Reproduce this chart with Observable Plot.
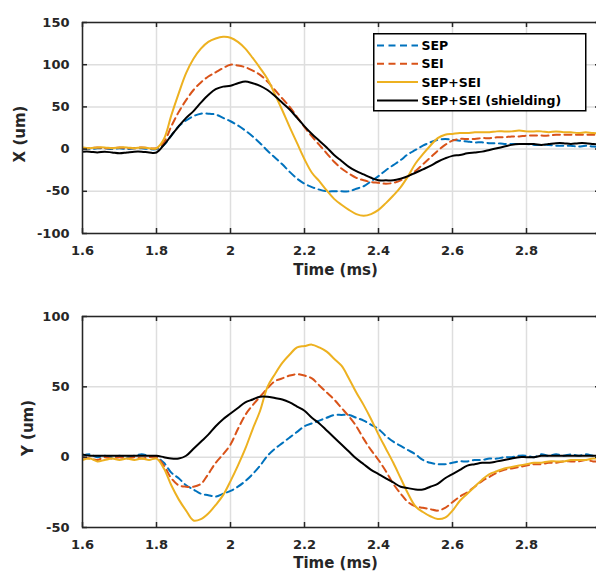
<!DOCTYPE html>
<html><head><meta charset="utf-8">
<script src="https://cdn.jsdelivr.net/npm/d3@7"></script>
<script src="https://cdn.jsdelivr.net/npm/@observablehq/plot@0.6"></script>
<style>
body{margin:0;background:#fff;overflow:hidden}
#wrap{position:relative;width:596px;height:574px;overflow:hidden;background:#fff}
#wrap > svg{display:block;max-width:none !important;width:604px !important;flex:none}
#wrap > svg#legend{width:214px !important}
#legend{position:absolute;left:373px;top:33px}
</style></head><body><div id="wrap"></div>
<script>
const time = [1.60,1.62,1.64,1.66,1.68,1.70,1.72,1.74,1.76,1.78,
  1.80,1.82,1.84,1.86,1.88,1.90,1.92,1.94,1.96,1.98,
  2.00,2.02,2.04,2.06,2.08,2.10,2.12,2.14,2.16,2.18,
  2.20,2.22,2.24,2.26,2.28,2.30,2.32,2.34,2.36,2.38,
  2.40,2.42,2.44,2.46,2.48,2.50,2.52,2.54,2.56,2.58,
  2.60,2.62,2.64,2.66,2.68,2.70,2.72,2.74,2.76,2.78,
  2.80,2.82,2.84,2.86,2.88,2.90,2.92,2.94,2.96,2.98,3.00];

const seriesNames = ["SEP", "SEI", "SEP+SEI", "SEP+SEI (shielding)"];
const seriesColors = ["#0072BD", "#D95319", "#EDB120", "#000000"];
const seriesDash = ["7,4.5", "7,4.5", null, null];

// Top panel: X (um)
const xSEP = [1,0,1,1,0,1,0,1,1,0,
  0,5,16,27,34,39,42,42,41,37,
  33,28,22,15,7,-2,-10,-18,-27,-35,
  -41,-45,-48,-50,-50,-50,-50,-47,-44,-38,
  -32,-25,-19,-13,-6,-1,4,8,11,12,
  11,10,9,8,8,7,7,6,6,6,
  6,5,5,5,4,4,4,3,4,3,3];
const xSEI = [1,1,2,1,1,2,1,1,2,1,
  1,8,27,44,58,70,79,86,91,96,
  100,99,97,93,88,80,70,60,50,38,
  26,15,5,-5,-15,-23,-29,-34,-37,-39,
  -40,-41,-40,-37,-32,-26,-18,-10,-2,5,
  10,12,12,12,13,13,14,14,15,15,
  16,16,16,16,17,17,17,17,17,17,17];
const xSEPSEI = [2,1,2,2,1,2,2,1,2,1,
  1,12,40,66,90,107,119,127,131,133,
  132,127,119,108,96,83,65,46,26,7,
  -12,-28,-38,-49,-59,-66,-72,-77,-79,-77,
  -72,-64,-55,-45,-32,-17,-6,4,13,17,
  18,19,19,20,20,20,21,21,21,22,
  21,21,21,20,21,20,20,19,20,19,19];
const xShield = [-3,-3,-4,-3,-4,-5,-4,-3,-3,-4,
  -4,5,16,27,37,45,55,64,71,74,
  75,78,80,78,75,70,63,55,47,37,
  27,18,10,2,-7,-14,-21,-26,-30,-34,
  -37,-37,-37,-35,-32,-28,-24,-20,-15,-11,
  -8,-7,-5,-4,-3,-1,1,3,5,6,
  6,6,5,6,7,7,6,7,7,6,5];

// Bottom panel: Y (um)
const ySEP = [1,2,0,1,0,1,0,1,2,1,
  0,-4,-11,-15,-20,-23,-26,-27,-28,-26,
  -24,-21,-17,-12,-6,1,6,10,14,18,
  22,24,26,28,30,30,30,28,26,23,
  20,15,11,8,5,2,-2,-4,-5,-5,
  -4,-3,-3,-2,-2,-1,-1,0,0,1,
  1,0,2,1,2,1,2,1,2,1,0];
const ySEI = [0,-1,-2,0,-1,0,-1,0,-1,0,
  0,-6,-15,-20,-21,-21,-19,-12,-4,2,
  9,20,30,37,43,49,54,56,58,59,
  58,56,51,46,41,35,29,22,13,5,
  -2,-10,-19,-26,-32,-35,-36,-37,-38,-36,
  -32,-28,-25,-21,-17,-14,-11,-9,-8,-7,
  -6,-5,-5,-4,-4,-3,-3,-3,-2,-3,-3];
const ySEPSEI = [-2,-1,-3,-2,-1,-2,-1,-2,-1,-2,
  -1,-8,-20,-30,-38,-45,-44,-40,-34,-27,
  -17,-6,6,20,33,50,59,67,73,78,
  79,80,78,75,70,65,56,46,37,27,
  16,6,-4,-15,-26,-35,-39,-42,-44,-43,
  -38,-31,-26,-21,-16,-12,-10,-8,-7,-6,
  -5,-4,-4,-3,-3,-3,-2,-2,-2,-1,-1];
const yShield = [2,1,1,1,1,1,1,1,1,1,
  1,0,-1,-1,1,6,11,16,22,27,
  31,35,39,41,43,43,42,41,39,36,
  33,28,24,19,14,9,4,-1,-5,-9,
  -12,-15,-18,-21,-22,-23,-23,-21,-19,-15,
  -12,-9,-6,-5,-4,-4,-3,-2,-1,0,
  0,0,1,1,1,1,1,1,1,1,1];

const xTicks = [1.6, 1.8, 2, 2.2, 2.4, 2.6, 2.8, 3];
const xTickLabels = ["1.6", "1.8", "2", "2.2", "2.4", "2.6", "2.8", "3"];
const topTicks = [-100, -50, 0, 50, 100, 150];
const bottomTicks = [-50, 0, 50, 100];

const W = 604, ML = 82, MR = 4, INNER_H = 211, INNER_W = W - ML - MR;
const axisColor = "#262626";

function panel({values, yDomain, yTicks, yLabel, marginTop, height, labelDx, timeDy}) {
  const marginBottom = height - marginTop - INNER_H;
  const lines = values.map((arr, s) =>
    Plot.line(arr.map((v, i) => ({t: time[i], v})), {
      x: "t", y: "v", stroke: seriesColors[s], strokeWidth: 2,
      strokeDasharray: seriesDash[s], curve: "catmull-rom", clip: true
    }));
  const svg = Plot.plot({
    width: W, height, marginLeft: ML, marginRight: MR, marginTop, marginBottom,
    style: {fontFamily: "DejaVu Sans", fontWeight: "bold", fontSize: "13px", color: axisColor, background: "transparent", maxWidth: "none"},
    x: {domain: [1.6, 3], ticks: xTicks},
    y: {domain: yDomain, ticks: yTicks},
    marks: [
      Plot.gridX(xTicks, {stroke: "#dedede", strokeOpacity: 1, strokeWidth: 1.5}),
      Plot.gridY(yTicks, {stroke: "#dedede", strokeOpacity: 1, strokeWidth: 1.5}),
      ...lines,
      Plot.tickX(xTicks, {x: d => d, insetTop: INNER_H - 5, stroke: axisColor, strokeWidth: 1.5}),
      Plot.tickX(xTicks, {x: d => d, insetBottom: INNER_H - 5, stroke: axisColor, strokeWidth: 1.5}),
      Plot.tickY(yTicks, {y: d => d, insetRight: INNER_W - 5, stroke: axisColor, strokeWidth: 1.5}),
      Plot.tickY(yTicks, {y: d => d, insetLeft: INNER_W - 5, stroke: axisColor, strokeWidth: 1.5}),
      Plot.frame({stroke: axisColor, strokeWidth: 1.5}),
      Plot.axisX(xTicks, {tickSize: 0, tickPadding: 12, label: null,
        tickFormat: d => xTickLabels[xTicks.indexOf(d)], fill: axisColor}),
      Plot.axisY(yTicks, {tickSize: 0, tickPadding: 13, label: null, tickFormat: d => String(d), fill: axisColor}),
      Plot.text([yLabel], {frameAnchor: "left", dx: labelDx, dy: 6, rotate: -90, text: d => d,
        fontSize: 15, fill: axisColor, textAnchor: "middle", lineAnchor: "middle"}),
      Plot.text(["Time (ms)"], {frameAnchor: "bottom", dx: -6, dy: timeDy, text: d => d,
        fontSize: 15, fill: axisColor, textAnchor: "middle", lineAnchor: "top"})
    ]
  });
  svg.style.maxWidth = "none";
  svg.style.width = W + "px";
  svg.style.height = height + "px";
  return svg;
}

const wrap = document.getElementById("wrap");
wrap.appendChild(panel({values: [xSEP, xSEI, xSEPSEI, xShield], yDomain: [-100, 150], yTicks: topTicks,
  yLabel: "X (um)", marginTop: 22, height: 290, labelDx: -62, timeDy: 31}));
wrap.appendChild(panel({values: [ySEP, ySEI, ySEPSEI, yShield], yDomain: [-50, 100], yTicks: bottomTicks,
  yLabel: "Y (um)", marginTop: 26, height: 284, labelDx: -54, timeDy: 30}));

// Legend
const lg = d3.select(wrap).append("svg").attr("id", "legend").attr("width", 214).attr("height", 79);
lg.append("rect").attr("x", 0.75).attr("y", 0.75).attr("width", 212).attr("height", 77)
  .attr("fill", "#fff").attr("stroke", "#000").attr("stroke-width", 1.5);
seriesNames.forEach((name, i) => {
  const cy = 12.5 + i * 18.3;
  lg.append("line").attr("x1", 4).attr("x2", 45).attr("y1", cy).attr("y2", cy)
    .attr("stroke", seriesColors[i]).attr("stroke-width", 2)
    .attr("stroke-dasharray", seriesDash[i]);
  lg.append("text").attr("x", 48.5).attr("y", cy).attr("dy", "0.36em")
    .attr("font-family", "DejaVu Sans").attr("font-weight", "bold").attr("font-size", 12.5)
    .attr("fill", "#000").text(name);
});
</script></body></html>
